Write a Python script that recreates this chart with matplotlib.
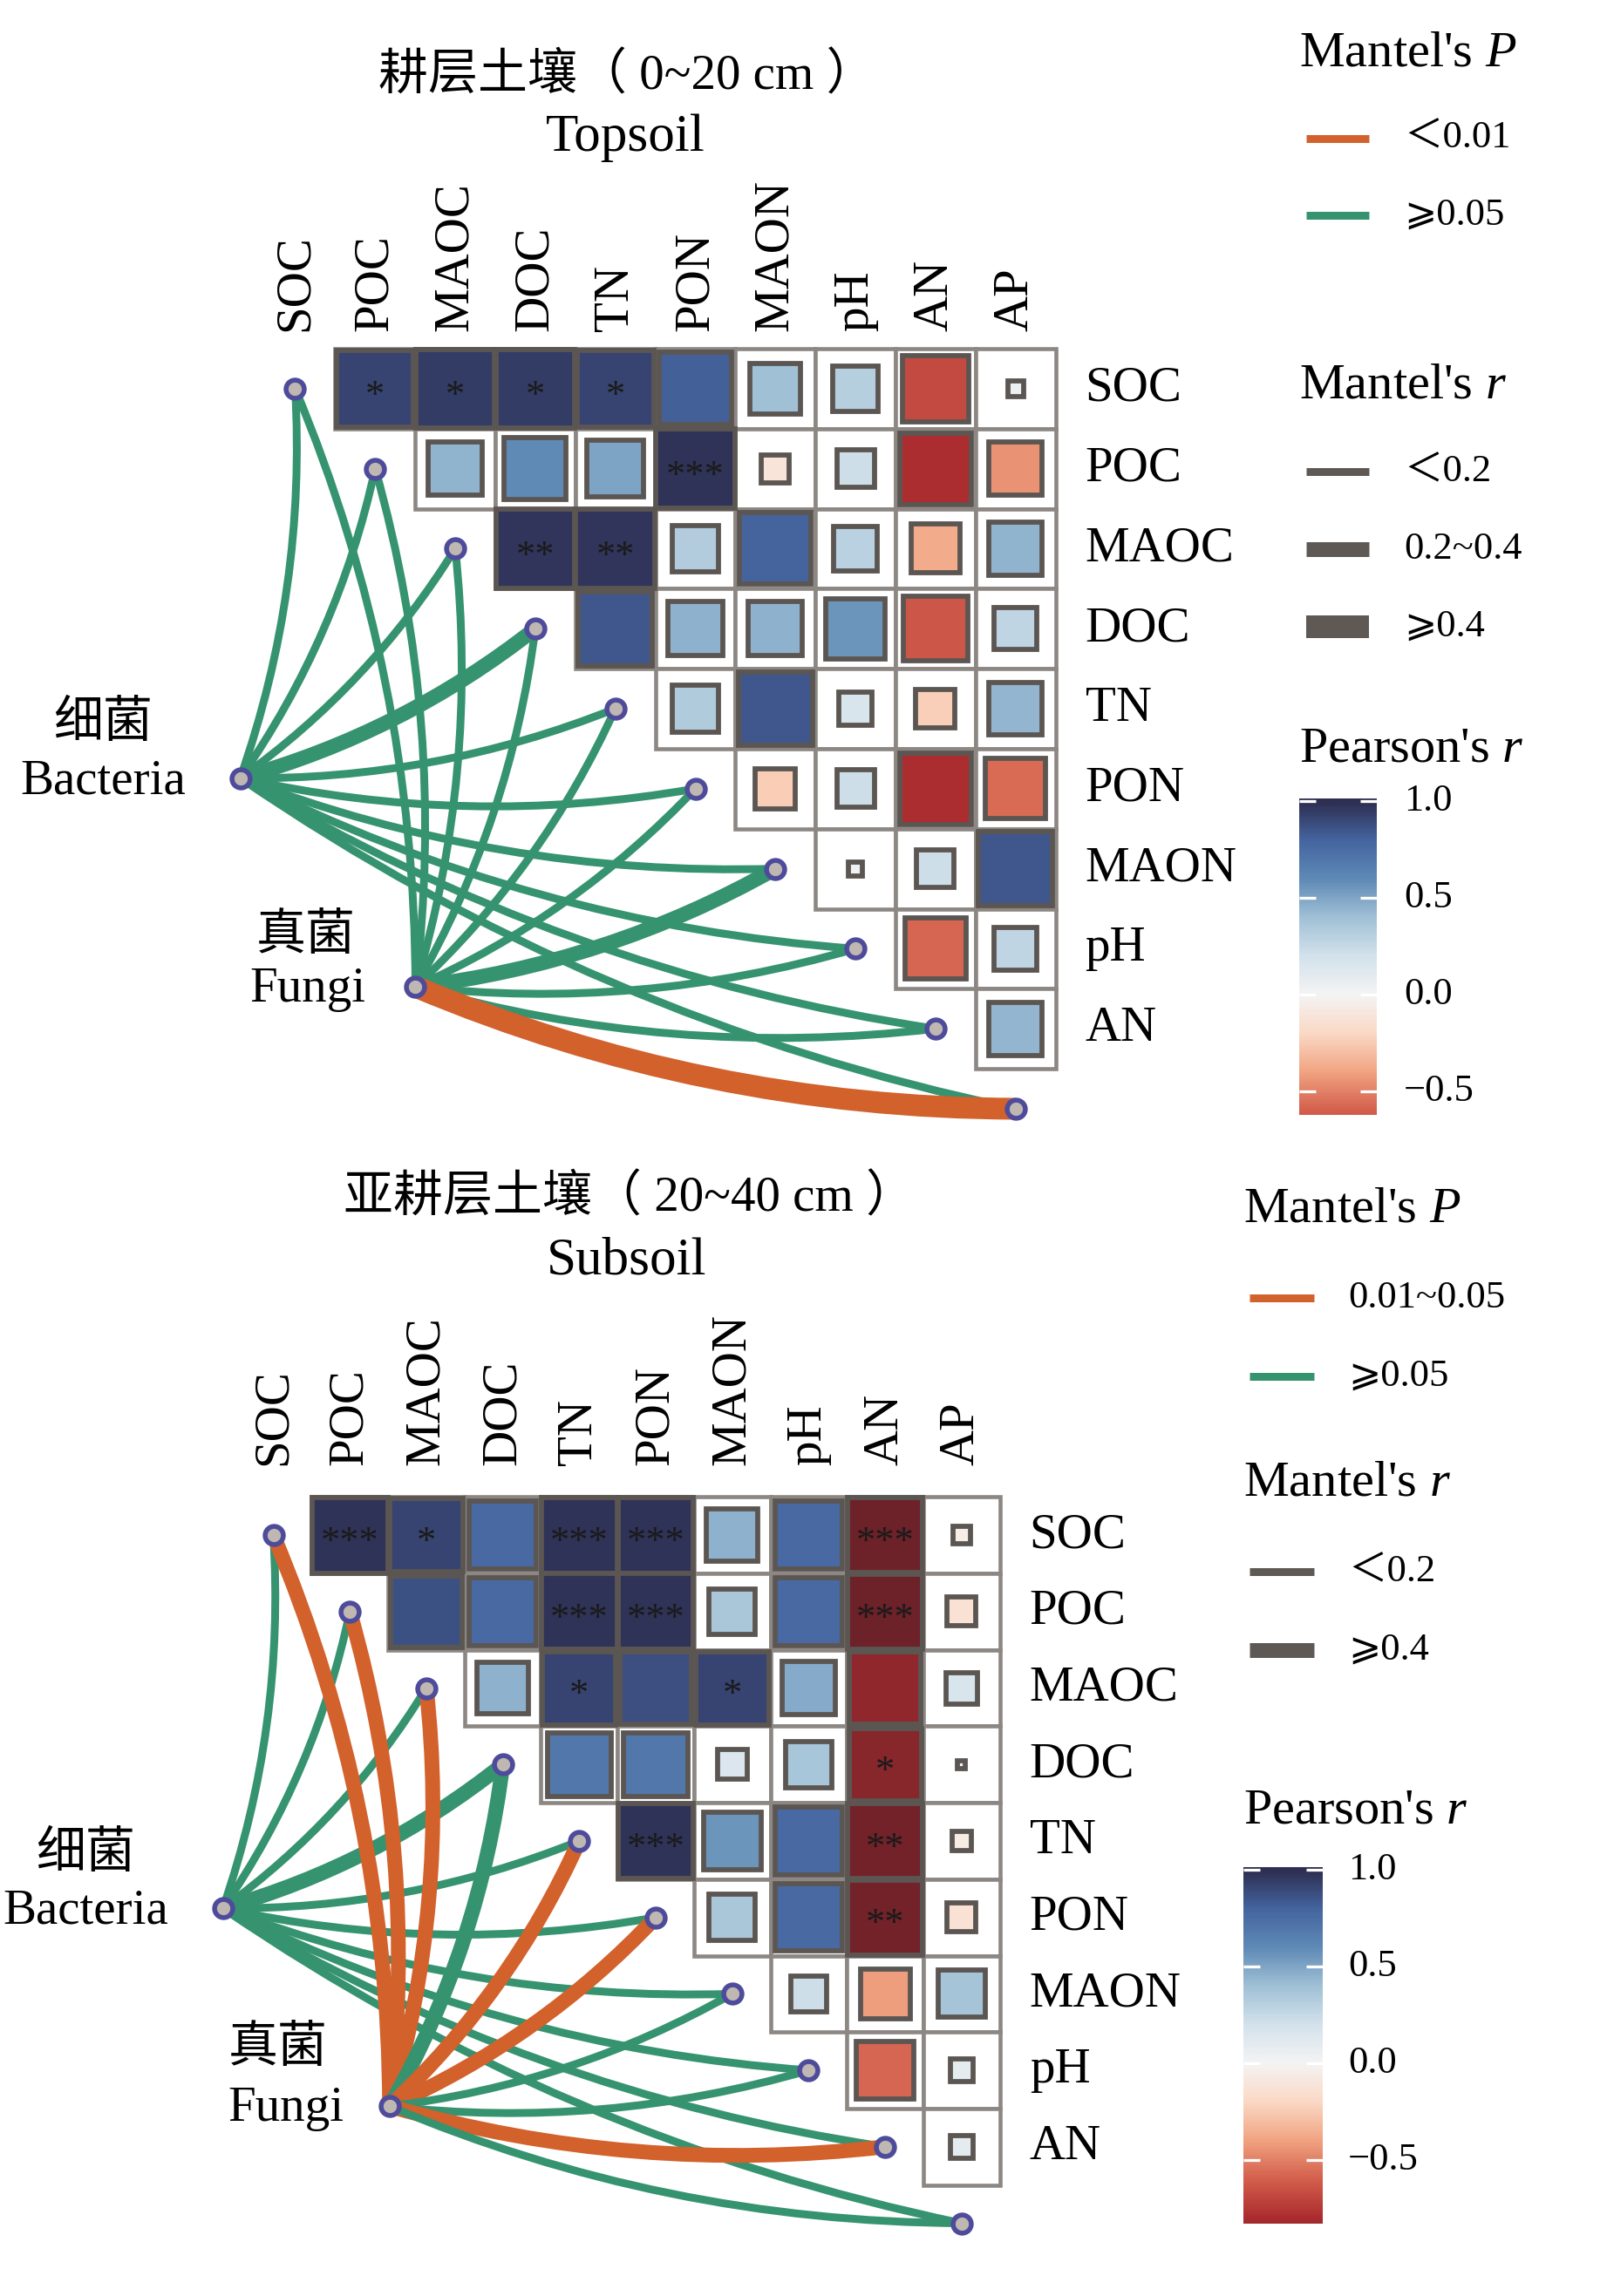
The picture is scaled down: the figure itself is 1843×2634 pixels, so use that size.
import numpy as np
import matplotlib
matplotlib.use("Agg")
import matplotlib.pyplot as plt
from matplotlib.colors import LinearSegmentedColormap, Normalize
from matplotlib.patches import Rectangle, FancyArrowPatch
from matplotlib.lines import Line2D

plt.rcParams['font.family'] = ['Liberation Serif', 'DejaVu Sans', 'Noto Sans CJK SC']
plt.rcParams['mathtext.fontset'] = 'custom'
plt.rcParams['mathtext.rm'] = 'Liberation Serif'
plt.rcParams['mathtext.it'] = 'Liberation Serif:italic'

env_vars = ['SOC', 'POC', 'MAOC', 'DOC', 'TN', 'PON', 'MAON', 'pH', 'AN', 'AP']
row_vars = env_vars[:-1]

# Pearson's r, upper triangle: row i against env_vars[i+1:]
top_r = [
    [0.92, 0.95, 0.95, 0.92, 0.82, 0.40, 0.32, -0.68, 0.04],
    [0.45, 0.60, 0.50, 0.98, -0.12, 0.22, -0.80, -0.45],
    [0.97, 0.97, 0.33, 0.80, 0.30, -0.37, 0.45],
    [0.85, 0.46, 0.46, 0.56, -0.64, 0.28],
    [0.34, 0.85, 0.17, -0.24, 0.44],
    [-0.25, 0.22, -0.80, -0.57],
    [0.03, 0.22, 0.85],
    [-0.58, 0.28],
    [0.44],
]
top_sig = [
    ['*', '*', '*', '*', '', '', '', '', ''],
    ['', '', '', '***', '', '', '', ''],
    ['**', '**', '', '', '', '', ''],
    ['', '', '', '', '', ''],
    ['', '', '', '', ''],
    ['', '', '', ''],
    ['', '', ''],
    ['', ''],
    [''],
]
sub_r = [
    [0.98, 0.92, 0.78, 0.98, 0.98, 0.46, 0.78, -0.97, -0.05],
    [0.87, 0.78, 0.98, 0.98, 0.36, 0.78, -0.97, -0.14],
    [0.46, 0.92, 0.88, 0.92, 0.48, -0.88, 0.17],
    [0.70, 0.70, 0.15, 0.37, -0.90, 0.01],
    [0.98, 0.56, 0.78, -0.96, -0.06],
    [0.36, 0.78, -0.96, -0.14],
    [0.22, -0.42, 0.38],
    [-0.58, 0.09],
    [0.09],
]
sub_sig = [
    ['***', '*', '', '***', '***', '', '', '***', ''],
    ['', '', '***', '***', '', '', '***', ''],
    ['', '*', '', '*', '', '', ''],
    ['', '', '', '', '*', ''],
    ['***', '', '', '**', ''],
    ['', '', '**', ''],
    ['', '', ''],
    ['', ''],
    [''],
]

# Mantel test classes per env variable
top_bact_p = ['>=0.05'] * 10
top_bact_r = ['<0.2', '<0.2', '<0.2', '0.2-0.4', '<0.2', '<0.2', '<0.2', '<0.2', '<0.2', '<0.2']
top_fungi_p = ['>=0.05'] * 9 + ['<0.01']
top_fungi_r = ['<0.2'] * 6 + ['0.2-0.4', '<0.2', '<0.2', '>=0.4']
sub_bact_p = ['>=0.05'] * 10
sub_bact_r = ['<0.2', '<0.2', '<0.2', '>=0.4', '<0.2', '<0.2', '<0.2', '<0.2', '<0.2', '<0.2']
sub_fungi_p = ['0.01-0.05', '0.01-0.05', '0.01-0.05', '>=0.05', '0.01-0.05',
               '0.01-0.05', '>=0.05', '>=0.05', '0.01-0.05', '>=0.05']
sub_fungi_r = ['>=0.4'] * 6 + ['<0.2', '<0.2', '>=0.4', '<0.2']

ORANGE = '#D2612C'
GREEN = '#36936F'
p_colors = {'<0.01': ORANGE, '0.01-0.05': ORANGE, '>=0.05': GREEN}
top_widths = {'<0.2': 9, '0.2-0.4': 17, '>=0.4': 25}  # px
sub_widths = {'<0.2': 9, '>=0.4': 17}

cmap = LinearSegmentedColormap.from_list('rdbu_print', [
    (0.0, '#651F28'), (0.1, '#AD2D2F'), (0.2, '#D4604D'), (0.3, '#F1A482'),
    (0.4, '#FBD9C6'), (0.5, '#F4F4F4'), (0.6, '#D3E2EC'), (0.7, '#A1C1D6'),
    (0.8, '#5F8AB6'), (0.9, '#4565A0'), (1.0, '#2E2F52')])
norm = Normalize(-1, 1)

W, H = 1843, 2634
fig = plt.figure(figsize=(W / 100, H / 100), dpi=100)
PT = 0.72  # px -> pt at 100 dpi


def fx(px):
    return px / W


def fy(py):
    return 1 - py / H


def draw_panel(py_top, py_bot, cell, x0, y0, r_rows, sig_rows, links, widths,
               bact_xy, fungi_xy, lab_gap, bact_lab, fungi_lab):
    ax = fig.add_axes([0, fy(py_bot), 1, (py_bot - py_top) / H])
    ax.set_xlim(-x0 / cell, (W - x0) / cell)
    ax.set_ylim((py_bot - y0) / cell, (py_top - y0) / cell)
    ax.axis('off')

    for i, row in enumerate(r_rows):
        for k, r in enumerate(row):
            j = i + 1 + k
            ax.add_patch(Rectangle((j - 0.5, i - 0.5), 1, 1, fc='white',
                                   ec='#8C8783', lw=4.6 * PT, zorder=1))
            s = np.sqrt(abs(r))
            ax.add_patch(Rectangle((j - s / 2, i - s / 2), s, s, fc=cmap(norm(r)),
                                   ec='#5C5653', lw=5.8 * PT, zorder=2))
            if sig_rows[i][k]:
                ax.text(j, i + 0.1, sig_rows[i][k], ha='center', va='center',
                        fontsize=32, color='#1a1a1a', zorder=3)

    for j, name in enumerate(env_vars):
        ax.text(j, -0.5 - lab_gap, name, rotation=90, ha='center', va='bottom',
                fontsize=41)
    for i, name in enumerate(row_vars):
        ax.text(9.5 + 34 / cell, i, name, ha='left', va='center', fontsize=41)

    for src, pcats, rcats in links:
        for k in range(len(env_vars)):
            ax.add_patch(FancyArrowPatch(posA=src, posB=(k, k), arrowstyle='-',
                                         connectionstyle='arc3,rad=0.1',
                                         color=p_colors[pcats[k]],
                                         lw=widths[rcats[k]] * PT, capstyle='butt',
                                         shrinkA=0, shrinkB=0, zorder=4))

    xs = list(range(len(env_vars))) + [bact_xy[0], fungi_xy[0]]
    ys = list(range(len(env_vars))) + [bact_xy[1], fungi_xy[1]]
    ax.plot(xs, ys, 'o', ms=15, mfc='#BEB7B2', mec='#4F4B9B', mew=4.0,
            zorder=5, ls='none')

    for (tx, ty, txt) in bact_lab + fungi_lab:
        ax.text(tx, ty, txt, ha='center', va='center', fontsize=41)
    return ax


def draw_legend(x_title, kx0, kx1, x_lab, p_title_y, p_items, r_title_y, r_items,
                c_title_y, cb_x0, cb_x1, cb_one, cb_unit, cb_low):
    fig.text(fx(x_title), fy(p_title_y), "Mantel's $P$", ha='left', va='center', fontsize=42)
    for y, col, lab in p_items:
        fig.add_artist(Line2D([fx(kx0), fx(kx1)], [fy(y), fy(y)], color=col,
                              lw=9 * PT, solid_capstyle='butt'))
        fig.text(fx(x_lab), fy(y), lab, ha='left', va='center', fontsize=32)
    fig.text(fx(x_title), fy(r_title_y), "Mantel's $r$", ha='left', va='center', fontsize=42)
    for y, w, lab in r_items:
        fig.add_artist(Line2D([fx(kx0), fx(kx1)], [fy(y), fy(y)], color='#5E5955',
                              lw=w * PT, solid_capstyle='butt'))
        fig.text(fx(x_lab), fy(y), lab, ha='left', va='center', fontsize=32)
    fig.text(fx(x_title), fy(c_title_y), "Pearson's $r$", ha='left', va='center', fontsize=42)

    vhi = 1.012
    top_px = cb_one - (vhi - 1.0) * cb_unit
    bot_px = cb_one + (1.0 - cb_low) * cb_unit
    cax = fig.add_axes([fx(cb_x0), fy(bot_px), fx(cb_x1) - fx(cb_x0), (bot_px - top_px) / H])
    grad = np.linspace(cb_low, vhi, 300)[:, None]
    cax.imshow(grad, aspect='auto', cmap=cmap, norm=norm, origin='lower',
               extent=[0, 1, cb_low, vhi])
    cax.set_xlim(0, 1)
    cax.set_ylim(cb_low, vhi)
    cax.axis('off')
    for t, lab in [(1.0, '1.0'), (0.5, '0.5'), (0.0, '0.0'), (-0.5, '\u22120.5')]:
        cax.plot([0, 0.21], [t, t], color='white', lw=3.3 * PT, solid_capstyle='butt')
        cax.plot([0.79, 1], [t, t], color='white', lw=3.3 * PT, solid_capstyle='butt')
        fig.text(fx(x_lab), fy(cb_one + (1.0 - t) * cb_unit), lab, ha='left',
                 va='center', fontsize=32)


# ---- top panel: topsoil ----
fig.text(fx(719), fy(87), '耕层土壤（ 0~20 cm ）', ha='center', va='center', fontsize=41)
fig.text(fx(717), fy(158), 'Topsoil', ha='center', va='center', fontsize=44)
draw_panel(0, 1320, 91.8, 338.5, 445.8, top_r, top_sig,
           [((-0.686, 4.867), top_bact_p, top_bact_r),
            ((1.503, 7.475), top_fungi_p, top_fungi_r)],
           top_widths, (-0.686, 4.867), (1.503, 7.475), 20 / 91.8,
           [(-2.40, 4.19, '细菌'), (-2.40, 4.91, 'Bacteria')],
           [(0.13, 6.85, '真菌'), (0.16, 7.51, 'Fungi')])
draw_legend(1490, 1498, 1570, 1610, 61,
            [(158.5, ORANGE, '＜0.01'), (247, GREEN, '⩾0.05')],
            442.5, [(541, 9, '＜0.2'), (630, 17, '0.2~0.4'), (719, 26, '⩾0.4')],
            859.5, 1490, 1579, 919, 222, -0.62)

# ---- bottom panel: subsoil ----
fig.text(fx(722), fy(1374), '亚耕层土壤（ 20~40 cm ）', ha='center', va='center', fontsize=41)
fig.text(fx(719), fy(1447), 'Subsoil', ha='center', va='center', fontsize=44)
draw_panel(1320, 2634, 87.7, 313.5, 1761.2, sub_r, sub_sig,
           [((-0.66, 4.88), sub_bact_p, sub_bact_r),
            ((1.52, 7.47), sub_fungi_p, sub_fungi_r)],
           sub_widths, (-0.66, 4.88), (1.52, 7.47), 36 / 87.7,
           [(-2.45, 4.17, '细菌'), (-2.45, 4.92, 'Bacteria')],
           [(0.06, 6.72, '真菌'), (0.16, 7.50, 'Fungi')])
draw_legend(1426, 1433, 1507, 1546, 1388,
            [(1489, ORANGE, '0.01~0.05'), (1579, GREEN, '⩾0.05')],
            1702, [(1803, 9, '＜0.2'), (1893, 17, '⩾0.4')],
            2077, 1426, 1517, 2145, 222, -0.83)

fig.savefig('out.png', dpi=100, facecolor='white')
